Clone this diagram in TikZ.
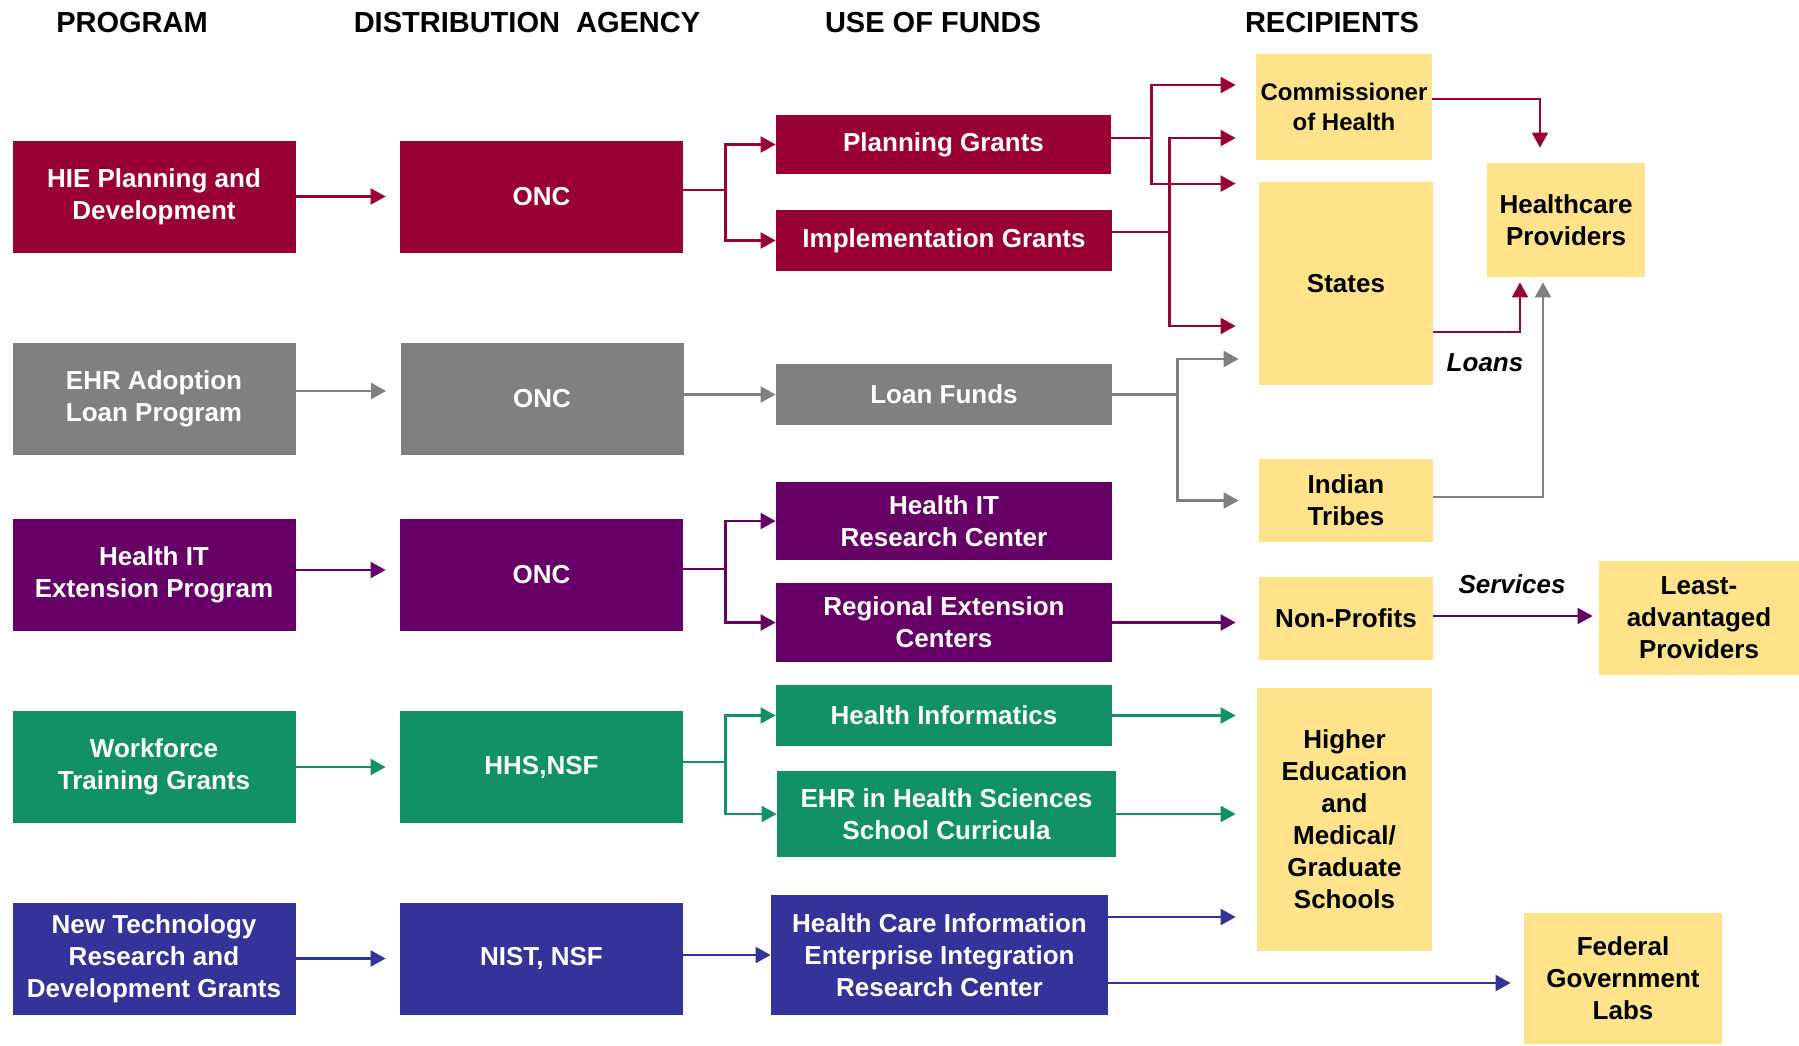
\documentclass[tikz,border=0pt]{standalone}
\usepackage{fontspec}
\setmainfont{Liberation Sans}
\usepackage{tikz}
\usetikzlibrary{arrows.meta}
\definecolor{hiered}{RGB}{153,0,51}
\definecolor{ehrgray}{RGB}{128,128,128}
\definecolor{hitpurple}{RGB}{102,0,102}
\definecolor{wfgreen}{RGB}{17,145,101}
\definecolor{ntblue}{RGB}{51,51,153}
\definecolor{recipyellow}{RGB}{255,227,138}

\begin{document}
\begin{tikzpicture}
[x=0.5pt,y=-0.5pt]
\tikzstyle{head}=[font=\bfseries\fontsize{14.5}{17}\selectfont]
\tikzstyle{fund box}=[inner sep=0pt,align=center,text=white,font=\bfseries\fontsize{13}{16}\selectfont]
\tikzstyle{prog box}=[fund box,minimum width=141.5pt,minimum height=56pt]
\tikzstyle{recip box}=[fund box,fill=recipyellow,text=black]
\tikzstyle{link}=[line width=1.1pt,-{Triangle[length=7.5pt,width=8pt]}]
\tikzstyle{tag}=[font=\bfseries\itshape\fontsize{13}{16}\selectfont]

\useasboundingbox (0,0) rectangle (1799,1045);

% column heads
\node(h1)[head] at (132,23) {PROGRAM};
\node(h2)[head] at (527,23) {DISTRIBUTION~~AGENCY};
\node(h3)[head] at (933,23) {USE OF FUNDS};
\node(h4)[head] at (1332,23) {RECIPIENTS};

% programs
\node(hie)[prog box,fill=hiered] at (154,196.5) {HIE Planning and\\Development};
\node(ehr)[prog box,fill=ehrgray] at (154,399) {EHR Adoption\\Loan Program};
\node(hitext)[prog box,fill=hitpurple] at (154,575) {Health IT\\Extension Program};
\node(work)[prog box,fill=wfgreen] at (154,767) {Workforce\\Training Grants};
\node(newtech)[prog box,fill=ntblue] at (154,958.5) {New Technology\\Research and\\Development Grants};

% agencies
\node(onc1)[prog box,fill=hiered] at (541.5,196.5) {ONC};
\node(onc2)[prog box,fill=ehrgray] at (542,399) {ONC};
\node(onc3)[prog box,fill=hitpurple] at (541.5,575) {ONC};
\node(hhs)[prog box,fill=wfgreen] at (541.5,767) {HHS,NSF};
\node(nist)[prog box,fill=ntblue] at (541.5,958.5) {NIST, NSF};

% use of funds
\node(plan)[fund box,fill=hiered,minimum width=167.5pt,minimum height=29.5pt] at (943.5,144.5) {Planning Grants};
\node(impl)[fund box,fill=hiered,minimum width=168pt,minimum height=30.5pt] at (944,240.5) {Implementation Grants};
\node(loan)[fund box,fill=ehrgray,minimum width=168pt,minimum height=30.5pt] at (944,394.5) {Loan Funds};
\node(hitrc)[fund box,fill=hitpurple,minimum width=168pt,minimum height=39pt] at (944,521) {Health IT\\Research Center};
\node(rec)[fund box,fill=hitpurple,minimum width=168pt,minimum height=39.5pt] at (944,622.5) {Regional Extension\\Centers};
\node(hinf)[fund box,fill=wfgreen,minimum width=168pt,minimum height=30.5pt] at (944,715.5) {Health Informatics};
\node(ehrhs)[fund box,fill=wfgreen,minimum width=169.5pt,minimum height=43pt] at (946.5,814) {EHR in Health Sciences\\School Curricula};
\node(hci)[fund box,fill=ntblue,minimum width=168.5pt,minimum height=60pt] at (939.5,955) {Health Care Information\\Enterprise Integration\\Research Center};

% recipients
\node(comm)[recip box,minimum width=88pt,minimum height=53pt,font=\bfseries\fontsize{12}{15}\selectfont] at (1344,107) {Commissioner\\of Health};
\node(states)[recip box,minimum width=87pt,minimum height=101.5pt] at (1346,283.5) {States};
\node(tribes)[recip box,minimum width=87pt,minimum height=41.5pt] at (1346,500.5) {Indian\\Tribes};
\node(nonprof)[recip box,minimum width=87pt,minimum height=41.5pt] at (1346,618.5) {Non-Profits};
\node(highed)[recip box,minimum width=87.5pt,minimum height=131.5pt] at (1344.5,819.5) {Higher\\Education\\and\\Medical/\\Graduate\\Schools};
\node(hcprov)[recip box,minimum width=79pt,minimum height=57pt] at (1566,220) {Healthcare\\Providers};
\node(least)[recip box,minimum width=100pt,minimum height=57pt] at (1699,618) {Least-\\advantaged\\Providers};
\node(fedlabs)[recip box,minimum width=99pt,minimum height=65.5pt] at (1623,978.5) {Federal\\Government\\Labs};

% HIE
\draw[link,hiered] (hie.east) -- ([xshift=-7pt]onc1.west);
\draw[link,hiered] ([yshift=3.25pt]onc1.east) -- ++(42,0) coordinate(j1) |- (plan.west);
\draw[link,hiered] (j1) |- (impl.west);
\draw[link,hiered] ([yshift=3.25pt]plan.east) -- ++(40,0) coordinate(j2) |- ([xshift=-10pt,yshift=11pt]comm.west);
\draw[link,hiered] (j2) |- ([xshift=-11.5pt,yshift=-1pt]states.north west);
\draw[link,hiered] ([yshift=4.25pt]impl.east) -- ++(57,0) coordinate(j3) |- ([xshift=-10pt,yshift=-15.5pt]comm.west);
\draw[link,hiered] (j3) |- ([xshift=-11.5pt,yshift=-21.25pt]states.west);
\draw[link,hiered] ([yshift=4pt]comm.east) -| ([xshift=-13pt,yshift=7.5pt]hcprov.north);
\draw[link,hiered] ([yshift=-24.25pt]states.east) -| ([xshift=-23pt,yshift=-2.5pt]hcprov.south);
\node(loans)[tag] at (1485,363) {Loans};

% EHR loans
\draw[link,ehrgray] ([yshift=4pt]ehr.east) -- ([xshift=-7pt,yshift=4pt]onc2.west);
\draw[link,ehrgray] (onc2.east |- loan.west) -- (loan.west);
\draw[link,ehrgray] (loan.east) -- ++(65,0) coordinate(j4) |- ([xshift=-10pt,yshift=-37.75pt]states.west);
\draw[link,ehrgray] (j4) |- ([xshift=-10pt]tribes.west);
\draw[link,ehrgray] ([yshift=1.75pt]tribes.east) -| ([xshift=-11.5pt,yshift=-2.5pt]hcprov.south);

% Health IT extension
\draw[link,hitpurple] ([yshift=2.5pt]hitext.east) -- ([xshift=-7pt,yshift=2.5pt]onc3.west);
\draw[link,hitpurple] ([yshift=3pt]onc3.east) -- ++(42,0) coordinate(j5) |- (hitrc.west);
\draw[link,hitpurple] (j5) |- (rec.west);
\draw[link,hitpurple,shorten >=11.5pt] (rec.east) -- (rec.east -| nonprof.west);
\draw[link,hitpurple,shorten >=3pt] ([yshift=1.25pt]nonprof.east) -- ([yshift=1.25pt]nonprof.east -| least.west);
\node(services)[tag] at (1512,584) {Services};

% workforce
\draw[link,wfgreen] (work.east) -- ([xshift=-7pt]hhs.west);
\draw[link,wfgreen] ([yshift=2.5pt]hhs.east) -- ++(42,0) coordinate(j6) |- (hinf.west);
\draw[link,wfgreen] (j6) |- (ehrhs.west);
\draw[link,wfgreen,shorten >=10.5pt] (hinf.east) -- (hinf.east -| highed.west);
\draw[link,wfgreen,shorten >=10.5pt] (ehrhs.east) -- (ehrhs.east -| highed.west);

% new technology
\draw[link,ntblue] (newtech.east) -- ([xshift=-7pt]nist.west);
\draw[link,ntblue] (nist.east |- hci.west) -- (hci.west);
\draw[link,ntblue,shorten >=10.5pt] ([yshift=19pt]hci.east) -- ([yshift=19pt]hci.east -| highed.west);
\draw[link,ntblue,shorten >=6.5pt] ([yshift=-14pt]hci.east) -- ([yshift=-14pt]hci.east -| fedlabs.west);
\end{tikzpicture}
\end{document}
